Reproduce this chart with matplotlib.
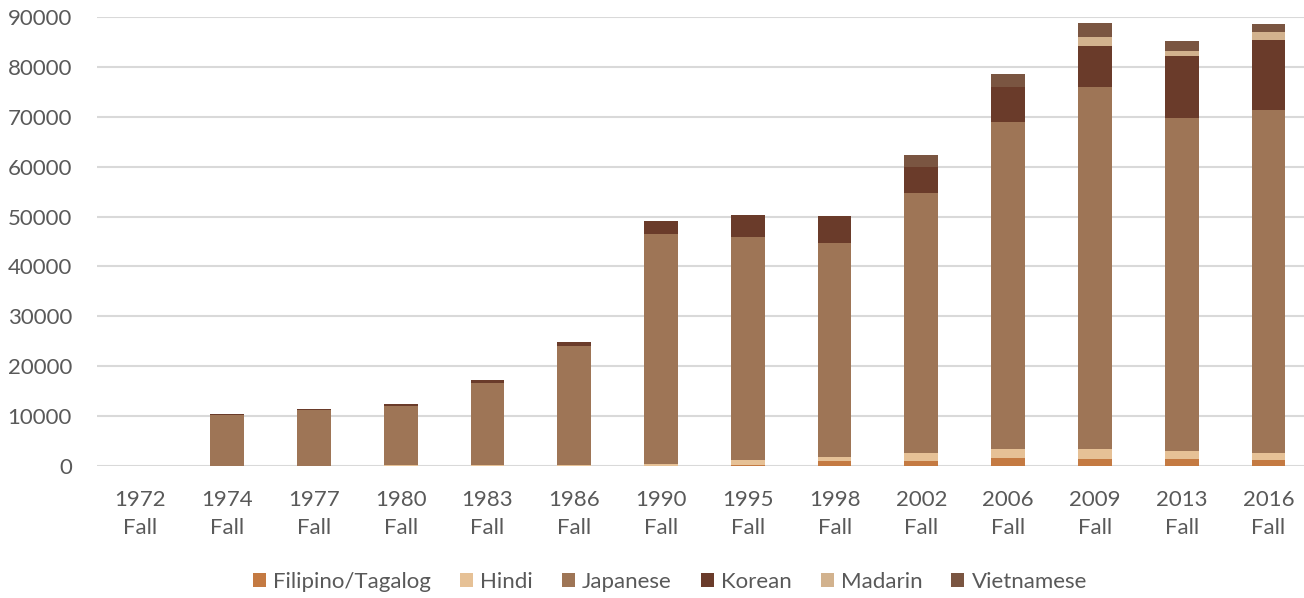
import matplotlib.pyplot as plt
import numpy as np

years = ['1972', '1974', '1977', '1980', '1983', '1986', '1990',
         '1995', '1998', '2002', '2006', '2009', '2013', '2016']
tick_labels = [f"{y}\nFall" for y in years]

filipino = [0, 0, 0, 0, 0, 0, 100, 200, 1000, 1000, 1700, 1350, 1350, 1200]
hindi = [0, 100, 100, 150, 150, 200, 400, 1100, 750, 1700, 1650, 2000, 1700, 1450]
japanese = [0, 10100, 11100, 11900, 16500, 23900, 46000, 44600, 42900,
            52100, 65550, 72700, 66800, 68800]
korean = [0, 200, 300, 400, 600, 800, 2650, 4500, 5500, 5200, 7000, 8200, 12300, 13900]
madarin = [0, 0, 0, 0, 0, 0, 0, 0, 0, 0, 0, 1800, 1050, 1550]
vietnamese = [0, 0, 0, 0, 0, 0, 0, 0, 0, 2300, 2650, 2800, 1950, 1650]

series = [
    ('Filipino/Tagalog', filipino, '#C47A42'),
    ('Hindi', hindi, '#E6C196'),
    ('Japanese', japanese, '#9E7556'),
    ('Korean', korean, '#6A3B2A'),
    ('Madarin', madarin, '#D2B28E'),
    ('Vietnamese', vietnamese, '#7A5541'),
]

plt.rcParams['font.family'] = ['Lato', 'DejaVu Sans']

fig = plt.figure(figsize=(13.04, 5.98), dpi=100)
ax = fig.add_axes([97 / 1304, 1 - 466 / 598, 1 - 97 / 1304, (466 - 17) / 598])

x = np.arange(len(years))
bottom = np.zeros(len(years))
for name, vals, col in series:
    vals = np.array(vals, dtype=float)
    ax.bar(x, vals, width=0.39, bottom=bottom, color=col, label=name, zorder=3)
    bottom += vals

ax.set_ylim(0, 90000)
ax.set_xlim(-0.5, 13.41)
ax.set_yticks(np.arange(0, 90001, 10000))
ax.set_xticks(x)
ax.set_xticklabels(tick_labels, linespacing=1.5)
ax.yaxis.grid(True, color='#D9D9D9', linewidth=1.5, zorder=0)
for s in ax.spines.values():
    s.set_visible(False)
ax.tick_params(length=0, labelsize=16, colors='#595959')
ax.tick_params(axis='x', pad=17)
ax.tick_params(axis='y', pad=18)

fig.legend(loc='center', bbox_to_anchor=(670 / 1304, 1 - 582 / 598), ncol=6,
           frameon=False, fontsize=16, handlelength=0.59, handleheight=0.59,
           handletextpad=0.32, columnspacing=1.3, labelcolor='#595959')

fig.savefig('out.png', dpi=100)
